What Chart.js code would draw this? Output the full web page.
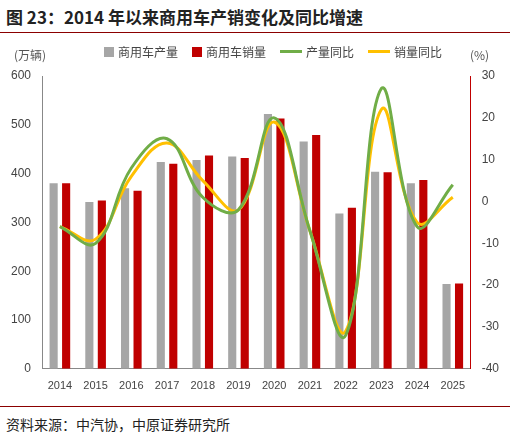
<!DOCTYPE html>
<html><head><meta charset="utf-8">
<script src="https://cdn.jsdelivr.net/npm/chart.js@4"></script>
<style>
body{margin:0;width:510px;height:440px;background:#fff;font-family:"Noto Sans CJK SC",sans-serif;position:relative;overflow:hidden}
#title{position:absolute;left:6px;top:4px;font-size:17px;font-weight:bold;color:#222}
#tline{position:absolute;left:0;top:32px;width:510px;border-top:1.5px solid #8b0000}
#bline{position:absolute;left:0;top:406px;width:510px;border-top:1px solid #8b0000}
#foot{position:absolute;left:6px;top:414px;font-size:14px;color:#222}
#wrap{position:absolute;left:0;top:38px;width:510px;height:362px}
.u{position:absolute;top:46px;font-size:12px;color:#555}
#legend{position:absolute;top:43px;left:104px;font-size:12px;color:#444;display:flex;gap:14px}
#legend span{display:flex;align-items:center;gap:4px}
.box{width:10px;height:10px;display:inline-block}
.ln{width:22px;height:3px;display:inline-block}
</style></head><body>
<div id="title">图 23：2014 年以来商用车产销变化及同比增速</div>
<div id="tline"></div>
<div id="wrap"><canvas id="c"></canvas></div>
<div class="u" style="left:14px">(万辆)</div>
<div class="u" style="left:470px">(%)</div>
<div id="legend">
<span><i class="box" style="background:#a6a6a6"></i>商用车产量</span>
<span><i class="box" style="background:#c00000"></i>商用车销量</span>
<span><i class="ln" style="background:#70ad47"></i>产量同比</span>
<span><i class="ln" style="background:#ffc000"></i>销量同比</span>
</div>
<div id="bline"></div>
<div id="foot">资料来源：中汽协，中原证券研究所</div>
<script>
const years = ['2014','2015','2016','2017','2018','2019','2020','2021','2022','2023','2024','2025'];
const production = [380, 342, 370, 424, 428, 435, 522, 466, 318, 404, 380, 174];
const sales = [380, 345, 365, 420, 437, 432, 513, 479, 330, 403, 387, 175];
const prodYoy = [-6, -10, 8, 15, 1, -2, 20, -7, -32, 27, -6, 4];
const salesYoy = [-6, -9, 6, 14, 5, -2, 19, -7, -31, 22, -5, 1];

new Chart(document.getElementById('c'), {
  data: {
    labels: years,
    datasets: [
      { type: 'line', data: prodYoy, borderColor: '#70ad47', borderWidth: 3, pointRadius: 0, tension: 0.4, yAxisID: 'y1' },
      { type: 'line', data: salesYoy, borderColor: '#ffc000', borderWidth: 3, pointRadius: 0, tension: 0.4, yAxisID: 'y1' },
      { type: 'bar', data: production, backgroundColor: '#a6a6a6', barPercentage: 0.65, categoryPercentage: 0.7, yAxisID: 'y' },
      { type: 'bar', data: sales, backgroundColor: '#c00000', barPercentage: 0.65, categoryPercentage: 0.7, yAxisID: 'y' }
    ]
  },
  options: {
    responsive: true, maintainAspectRatio: false, animation: false,
    layout: { padding: { top: 38, left: 8, right: 8, bottom: 4 } },
    plugins: { legend: { display: false }, tooltip: { enabled: false } },
    scales: {
      x: { grid: { display: false }, border: { color: '#888' }, ticks: { color: '#444', font: { size: 11 } } },
      y: { min: 0, max: 600, ticks: { stepSize: 100, color: '#444', font: { size: 12 } }, grid: { display: false }, border: { color: '#888' } },
      y1: { position: 'right', min: -40, max: 30, ticks: { stepSize: 10, color: '#444', font: { size: 12 } }, grid: { display: false }, border: { color: '#c00000' } }
    }
  }
});
</script>
</body></html>
